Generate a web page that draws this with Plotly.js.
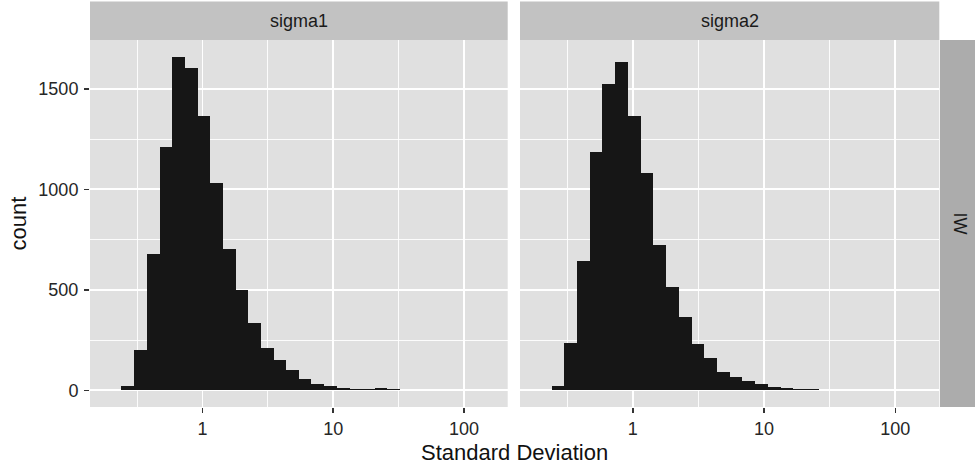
<!DOCTYPE html>
<html>
<head>
<meta charset="utf-8">
<script src="https://cdn.plot.ly/plotly-3.0.1.min.js"></script>
<style>html,body{margin:0;padding:0;background:#fff;}#chart{width:975px;height:464px;}</style>
</head>
<body>
<div id="chart"></div>
<script>
// Bin centres on the log10(Standard Deviation) scale (30 shared bins)
const binCentersLog10 = [-0.667, -0.570, -0.473, -0.376, -0.279, -0.183, -0.086, 0.011, 0.108, 0.205,
  0.301, 0.398, 0.495, 0.592, 0.689, 0.785, 0.882, 0.979, 1.076, 1.173,
  1.269, 1.366, 1.463, 1.560, 1.657, 1.753, 1.850, 1.947, 2.044, 2.141];
const binWidthLog10 = 0.0968;
// counts
const sigma1Counts = [0, 20, 202, 680, 1210, 1660, 1605, 1366, 1032, 705,
  500, 333, 210, 150, 101, 54, 32, 22, 14, 9,
  6, 14, 5, 3, 2, 2, 1, 1, 0, 0];
const sigma2Counts = [0, 20, 235, 645, 1188, 1522, 1635, 1366, 1082, 724,
  516, 366, 232, 159, 90, 66, 46, 29, 18, 12,
  8, 5, 4, 2, 2, 1, 0, 0, 1, 0];
const panelLabels = ["sigma1", "sigma2"];
const rowLabel = "IW";
const xTickVals = [0, 1, 2];
const xTickText = ["1", "10", "100"];
const xMinorVals = [-0.5, 0.5, 1.5];
const xTitle = "Standard Deviation";
const yTitle = "count";

const W = 975, H = 464;
const px = v => v / W, py = v => 1 - v / H;
const P1 = [90, 507.7], P2 = [520, 939.3];
const PT = 40, PB = 407;

const font = "Liberation Sans, Arial, Helvetica, sans-serif";
const barColor = "#161616";
const barWidths = binCentersLog10.map(() => binWidthLog10 + 0.0015);

const traces = [
  {type: "bar", x: binCentersLog10, y: sigma1Counts, width: barWidths, xaxis: "x", yaxis: "y",
   marker: {color: barColor, line: {width: 0}}, hoverinfo: "x+y"},
  {type: "bar", x: binCentersLog10, y: sigma2Counts, width: barWidths, xaxis: "x2", yaxis: "y2",
   marker: {color: barColor, line: {width: 0}}, hoverinfo: "x+y"}
];

const tickFont = {family: font, size: 18, color: "#262626"};
const xBase = {
  range: [-0.86, 2.335], tickmode: "array", tickvals: xTickVals, ticktext: xTickText,
  showgrid: true, gridcolor: "#ffffff", gridwidth: 1.8, zeroline: false,
  ticks: "outside", ticklen: 5, tickwidth: 1.4, tickcolor: "#333333",
  tickfont: tickFont,
  minor: {tickmode: "array", tickvals: xMinorVals, showgrid: true, gridcolor: "#ffffff", gridwidth: 0.9, ticks: ""},
  showline: false, fixedrange: true
};
const yBase = {
  range: [-83, 1743], tickmode: "linear", tick0: 0, dtick: 500,
  showgrid: true, gridcolor: "#ffffff", gridwidth: 1.8, zeroline: false,
  ticks: "outside", ticklen: 5, tickwidth: 1.4, tickcolor: "#333333",
  tickfont: tickFont,
  minor: {tick0: 0, dtick: 250, showgrid: true, gridcolor: "#ffffff", gridwidth: 0.9, ticks: ""},
  showline: false, fixedrange: true, domain: [py(PB), py(PT)]
};

const layout = {
  width: W, height: H,
  margin: {l: 0, r: 0, t: 0, b: 0, pad: 0},
  paper_bgcolor: "#ffffff", plot_bgcolor: "#e0e0e0",
  showlegend: false, bargap: 0,
  xaxis: Object.assign({}, xBase, {domain: [px(P1[0]), px(P1[1])], anchor: "y"}),
  xaxis2: Object.assign({}, xBase, {domain: [px(P2[0]), px(P2[1])], anchor: "y2"}),
  yaxis: Object.assign({}, yBase, {anchor: "x", ticklabelstandoff: 2}),
  yaxis2: Object.assign({}, yBase, {anchor: "x2", showticklabels: false, ticks: ""}),
  shapes: [
    {type: "rect", xref: "paper", yref: "paper", x0: px(P1[0]), x1: px(P1[1]), y0: py(PT), y1: py(1.5), fillcolor: "#c2c2c2", line: {width: 0}, layer: "below"},
    {type: "rect", xref: "paper", yref: "paper", x0: px(P2[0]), x1: px(P2[1]), y0: py(PT), y1: py(1.5), fillcolor: "#c2c2c2", line: {width: 0}, layer: "below"},
    {type: "rect", xref: "paper", yref: "paper", x0: px(940), x1: 1, y0: py(PB), y1: py(PT), fillcolor: "#acacac", line: {width: 0}, layer: "below"}
  ],
  annotations: [
    {text: panelLabels[0], xref: "paper", yref: "paper", x: px((P1[0] + P1[1]) / 2), y: py(21), showarrow: false,
     xanchor: "center", yanchor: "middle", font: {family: font, size: 18, color: "#1a1a1a"}},
    {text: panelLabels[1], xref: "paper", yref: "paper", x: px((P2[0] + P2[1]) / 2), y: py(21), showarrow: false,
     xanchor: "center", yanchor: "middle", font: {family: font, size: 18, color: "#1a1a1a"}},
    {text: rowLabel, xref: "paper", yref: "paper", x: px(960), y: py((PT + PB) / 2), showarrow: false, textangle: 90,
     xanchor: "center", yanchor: "middle", font: {family: font, size: 18, color: "#1a1a1a"}},
    {text: xTitle, xref: "paper", yref: "paper", x: px((P1[0] + P2[1]) / 2), y: py(452), showarrow: false,
     xanchor: "center", yanchor: "middle", font: {family: font, size: 22, color: "#111111"}},
    {text: yTitle, xref: "paper", yref: "paper", x: px(18), y: py((PT + PB) / 2), showarrow: false, textangle: -90,
     xanchor: "center", yanchor: "middle", font: {family: font, size: 22, color: "#111111"}}
  ]
};

Plotly.newPlot("chart", traces, layout, {displayModeBar: false, staticPlot: true});
</script>
</body>
</html>
